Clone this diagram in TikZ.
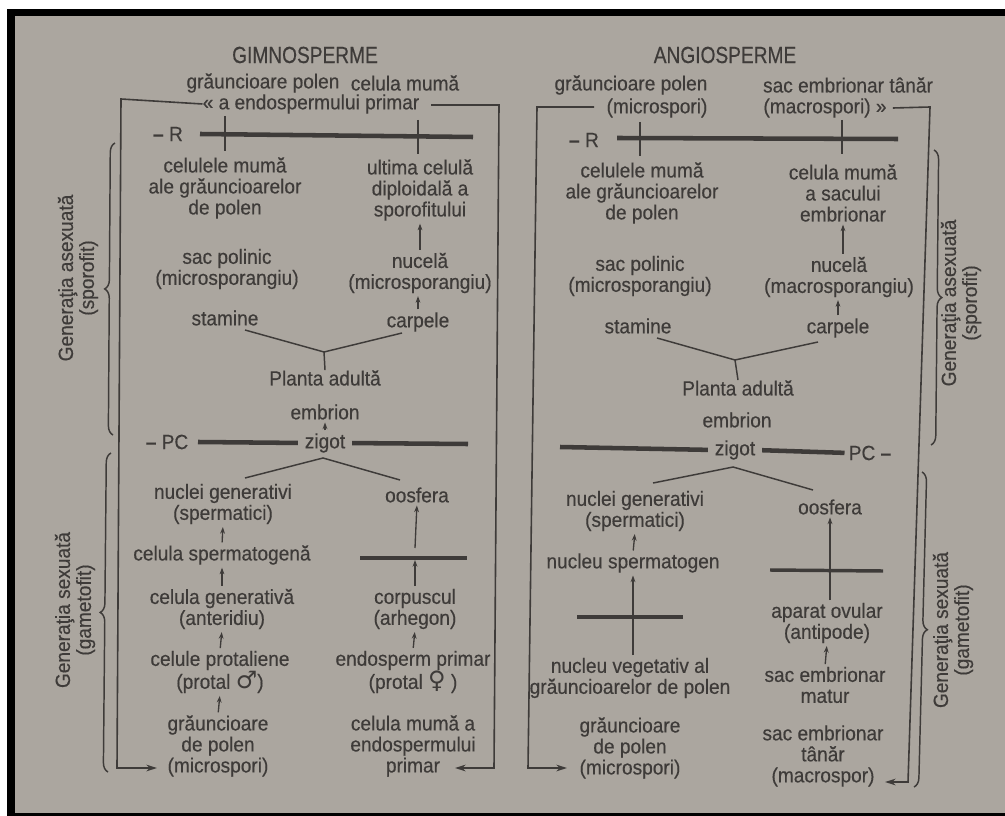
\documentclass[tikz,border=0pt]{standalone}
\usepackage{fontspec}
\setmainfont{Liberation Sans}[FakeStretch=0.93,FakeBold=0.4]
\newfontfamily\titlef{Liberation Sans}[FakeStretch=0.82,FakeBold=0.4]
\newfontfamily\symf{DejaVu Sans}
\usetikzlibrary{arrows.meta,decorations.pathreplacing}
\definecolor{paper}{RGB}{171,166,159}
\definecolor{ink}{RGB}{62,59,57}
\begin{document}
\begin{tikzpicture}[x=0.75pt,y=-0.75pt,
 txt/.style={text=ink,align=center,inner sep=0pt,font=\fontsize{15.4}{15.75}\selectfont},
 ttl/.style={text=ink,inner sep=0pt,font=\titlef\fontsize{17.5}{18}\selectfont},
 arr/.style={draw=ink,line width=1pt,-{Stealth[length=5pt,width=3.6pt]},shorten <=2pt,shorten >=2pt},
 thinl/.style={draw=ink,line width=1.1pt},
 thickl/.style={draw=ink,line width=3.4pt},
 framel/.style={draw=ink,line width=1.2pt,-{Stealth[length=8pt,width=5pt]}},
 brc/.style={draw=ink,line width=1.1pt,decorate,decoration={brace,amplitude=7pt}},
 side/.style={txt,rotate=90}]
% background
\fill[white] (0,0) rectangle (1005,816);
\fill[black] (7,9) rectangle (1005,816);
\fill[paper] (15,16) rectangle (1005,813);
\useasboundingbox (0,0) rectangle (1005,816);

% ================= GIMNOSPERME =================
\node[ttl] (titG) at (305,55) {GIMNOSPERME};
\node[txt] (gtA) at (263,83) {grăuncioare polen};
\node[txt] (gtB) at (405,83) {celula mumă};
\node[txt] (gtC) at (311,104) {« a endospermului primar};

\node[txt] (rG) at (168,134) {\textbf{–} R};
\coordinate (rG1) at (200,134); \coordinate (rG2) at (473,137);
\draw[thickl] (rG1) -- (rG2);
\coordinate (tG1a) at (225,116); \coordinate (tG1b) at (225,151);
\coordinate (tG2a) at (418,120); \coordinate (tG2b) at (418,154);
\draw[thinl,line width=1.6pt] (tG1a) -- (tG1b);
\draw[thinl,line width=1.6pt] (tG2a) -- (tG2b);

\node[txt] (cmG) at (225,188) {celulele mumă\\ale grăuncioarelor\\de polen};
\node[txt] (ucG) at (420,190) {ultima celulă\\diploidală a\\sporofitului};
\node[txt] (spG) at (227,269) {sac polinic\\(microsporangiu)};
\node[txt] (nuG) at (420,273) {nucelă\\(microsporangiu)};
\node[txt] (stG) at (225,318) {stamine};
\node[txt] (caG) at (418,322) {carpele};
\node[txt] (plG) at (325,378) {Planta adultă};
\node[txt] (emG) at (325,412) {embrion};
\node[txt] (pcG) at (167,442) {\textbf{–} PC};
\node[txt] (zG) at (325,443) {zigot};

\draw[arr] (nuG.north -| ucG) -- (ucG.south);
\draw[arr] (caG.north) -- (nuG.south -| caG);
\coordinate (vG1) at (245,330); \coordinate (vG0) at (324,352); \coordinate (vG2) at (402,333);
\draw[thinl] (vG1) -- (vG0) -- (vG2);
\draw[thinl] (vG0) -- (plG.north);
\draw[arr] (zG.north) -- (emG.south);
\coordinate (pG1) at (198,442); \coordinate (pG2) at (468,444);
\draw[thickl,shorten >=5pt] (pG1) -- (zG.west);
\draw[thickl,shorten <=5pt] (zG.east) -- (pG2);

\coordinate (wG1) at (245,478); \coordinate (wG0) at (323,458); \coordinate (wG2) at (400,480);
\draw[thinl] (wG1) -- (wG0) -- (wG2);

\node[txt] (ngG) at (223,504) {nuclei generativi\\(spermatici)};
\node[txt] (ooG) at (417,495) {oosfera};
\node[txt] (csG) at (222,555) {celula spermatogenă};
\node[txt] (cgG) at (222,609) {celula generativă\\(anteridiu)};
\node[txt] (cpG) at (220,672) {celule protaliene\\(protal {\symf\fontsize{18}{15}\selectfont ♂})};
\node[txt] (grG) at (218,746) {grăuncioare\\de polen\\(microspori)};
\node[txt] (coG) at (415,609) {corpuscul\\(arhegon)};
\node[txt] (epG) at (413,672) {endosperm primar\\(protal {\symf\fontsize{18}{15}\selectfont ♀} )};
\node[txt] (cmaG) at (413,746) {celula mumă a\\endospermului\\primar};

\draw[arr] (csG.north) -- (ngG.south);
\draw[arr] (cgG.north) -- (csG.south);
\draw[arr] (cpG.north) -- (cgG.south);
\draw[arr] (grG.north) -- (cpG.south);
\coordinate (hG1) at (360,558); \coordinate (hG2) at (467,558);
\draw[thickl,line width=2.6pt] (hG1) -- (hG2);
\coordinate (oG) at (415,548); \coordinate (hGm) at (415,560);
\draw[arr,shorten <=0pt] (oG) -- (ooG.south);
\draw[arr,shorten >=0pt] (coG.north) -- (hGm);
\draw[arr] (epG.north) -- (coG.south);

% frame gimno
\coordinate (gLT) at (121,99); \coordinate (gLB) at (117,768); \coordinate (gLE) at (157,768);
\draw[framel] (gtC.west) -- (gLT) -- (gLB) -- (gLE);
\coordinate (gRS) at (431,105); \coordinate (gRT) at (499,105); \coordinate (gRB) at (494,768); \coordinate (gRE) at (455,768);
\draw[framel] (gRS) -- (gRT) -- (gRB) -- (gRE);

% braces left
\coordinate (bL1a) at (113,435); \coordinate (bL1b) at (115,143);
\draw[brc] (bL1a) -- (bL1b);
\node[side] (asL) at (78,278) {Generaţia asexuată\\(sporofit)};
\coordinate (bL2a) at (108,772); \coordinate (bL2b) at (111,453);
\draw[brc] (bL2a) -- (bL2b);
\node[side] (sxL) at (75,610) {Generaţia sexuată\\(gametofit)};

% ================= ANGIOSPERME =================
\node[ttl] (titA) at (725,55) {ANGIOSPERME};
\node[txt] (gpA1) at (631,85) {grăuncioare polen};
\node[txt] (gpA2) at (657,108) {(microspori)};
\node[txt] (seA1) at (848,85) {sac embrionar tânăr};
\node[txt] (seA2) at (825,108) {(macrospori) »};

\node[txt] (rA) at (584,140) {\textbf{–} R};
\coordinate (rA1) at (617,138); \coordinate (rA2) at (898,139);
\draw[thickl] (rA1) -- (rA2);
\coordinate (tA1a) at (640,122); \coordinate (tA1b) at (640,156);
\coordinate (tA2a) at (842,120); \coordinate (tA2b) at (842,154);
\draw[thinl,line width=1.6pt] (tA1a) -- (tA1b);
\draw[thinl,line width=1.6pt] (tA2a) -- (tA2b);

\node[txt] (cmA) at (642,193) {celulele mumă\\ale grăuncioarelor\\de polen};
\node[txt] (csA) at (843,193) {celula mumă\\a sacului\\embrionar};
\node[txt] (spA) at (640,276) {sac polinic\\(microsporangiu)};
\node[txt] (nuA) at (839,277) {nucelă\\(macrosporangiu)};
\node[txt] (stA) at (638,326) {stamine};
\node[txt] (caA) at (838,328) {carpele};
\node[txt] (plA) at (738,388) {Planta adultă};
\node[txt] (emA) at (737,420) {embrion};
\node[txt] (zA) at (735,450) {zigot};
\node[txt] (pcA) at (870,453) {PC \textbf{–}};

\draw[arr] (nuA.north -| csA) -- (csA.south);
\draw[arr] (caA.north) -- (nuA.south -| caA);
\coordinate (vA1) at (657,338); \coordinate (vA0) at (735,360); \coordinate (vA2) at (818,342);
\draw[thinl] (vA1) -- (vA0) -- (vA2);
\draw[thinl] (vA0) -- (plA.north);
\coordinate (pA1) at (560,447);
\draw[thickl,shorten >=5pt] (pA1) -- (zA.west);
\draw[thickl,shorten <=5pt,shorten >=3pt] (zA.east) -- (pcA.west);

\coordinate (wA1) at (653,483); \coordinate (wA0) at (733,467); \coordinate (wA2) at (813,490);
\draw[thinl] (wA1) -- (wA0) -- (wA2);

\node[txt] (ngA) at (635,511) {nuclei generativi\\(spermatici)};
\node[txt] (ooA) at (830,507) {oosfera};
\node[txt] (nsA) at (633,563) {nucleu spermatogen};
\node[txt] (nvA) at (630,678) {nucleu vegetativ al\\grăuncioarelor de polen};
\node[txt] (grA) at (630,748) {grăuncioare\\de polen\\(microspori)};
\node[txt] (aoA) at (827,623) {aparat ovular\\(antipode)};
\node[txt] (smA) at (825,685) {sac embrionar\\matur};
\node[txt] (stnA) at (823,756) {sac embrionar\\tânăr\\(macrospor)};

\draw[arr] (nsA.north) -- (ngA.south);
\draw[arr] (nvA.north -| nsA) -- (nsA.south);
\coordinate (hA1) at (577,617); \coordinate (hA2) at (683,617);
\draw[thickl,line width=2.6pt] (hA1) -- (hA2);
\draw[arr] (aoA.north -| ooA) -- (ooA.south);
\coordinate (hA3) at (770,570); \coordinate (hA4) at (883,571);
\draw[thickl,line width=2.6pt] (hA3) -- (hA4);
\draw[arr] (smA.north) -- (aoA.south);

% frame angio
\coordinate (aLS) at (594,107); \coordinate (aLT) at (537,107); \coordinate (aLB) at (528,768); \coordinate (aLE) at (567,768);
\draw[framel] (aLS) -- (aLT) -- (aLB) -- (aLE);
\coordinate (aRT) at (930,107); \coordinate (aRB) at (908,782); \coordinate (aRE) at (885,782);
\draw[framel] (seA2.east) ++(6,0) -- (aRT) -- (aRB) -- (aRE);

% braces right
\coordinate (bR1a) at (934,150); \coordinate (bR1b) at (931,445);
\draw[brc] (bR1a) -- (bR1b);
\node[side] (asR) at (961,303) {Generaţia asexuată\\(sporofit)};
\coordinate (bR2a) at (922,472); \coordinate (bR2b) at (914,787);
\draw[brc] (bR2a) -- (bR2b);
\node[side] (sxR) at (953,630) {Generaţia sexuată\\(gametofit)};
\end{tikzpicture}
\end{document}
